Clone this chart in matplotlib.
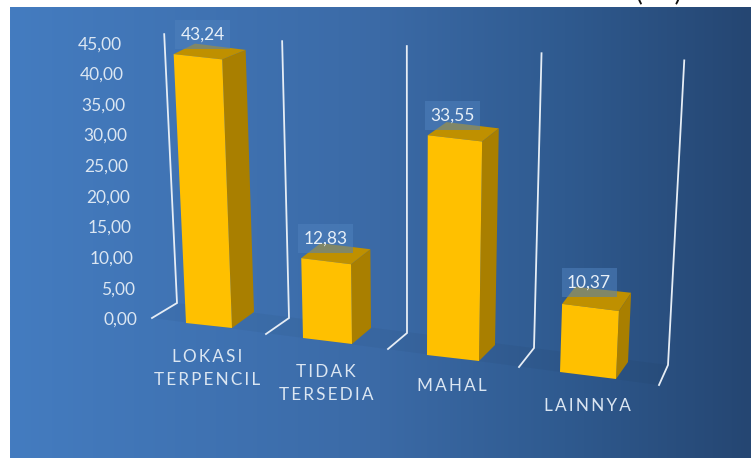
import numpy as np
import matplotlib
matplotlib.use("Agg")
import matplotlib.pyplot as plt
from matplotlib.patches import Polygon, Rectangle

# ---- data ----
categories = ["LOKASI\nTERPENCIL", "TIDAK\nTERSEDIA", "MAHAL", "LAINNYA"]
values = [43.24, 12.83, 33.55, 10.37]
tick_values = [0, 5, 10, 15, 20, 25, 30, 35, 40, 45]
value_labels = ["43,24", "12,83", "33,55", "10,37"]

# ---- 3D perspective layout (pixels) ----
W, H = 751, 458
VP = (410.0, 5200.0)                # vanishing point of the vertical edges
# bar footprints: front-left, front-right, back-right, back-left
bases = [[(186, 323), (232, 328), (254, 312), (206, 306)],
         [(303, 338), (352, 344), (371, 328), (322, 322)],
         [(427, 355), (479, 361), (495, 345), (445, 339)],
         [(560, 372), (616, 379), (628, 362), (573, 356)]]
front_k = [0.001275, 0.00128, 0.001352, 0.00136]
back_k = [0.001240, 0.00126, 0.001330, 0.00138]
label_off = [(29, -20), (24, -20), (25, -20), (27, -21)]
cat_xy = [(207, 368.5), (326, 383.5), (452, 386), (587, 406)]
# wall lines: bend point, foot point, perspective scale
walls = [((177, 303), (152, 318), 0.00122),
         ((289, 318), (266, 334), 0.00126),
         ((407, 333), (388, 349), 0.00131),
         ((534, 348), (519, 367), 0.00135),
         ((668, 365), (659, 385), 0.00140)]


def lift(pt, value, k):
    """Project a floor point up by `value` toward the vanishing direction."""
    t = value * k
    return (pt[0] + t * (pt[0] - VP[0]), pt[1] + t * (pt[1] - VP[1]))


plt.rcParams["font.family"] = ["Lato", "DejaVu Sans"]
fig = plt.figure(figsize=(W / 100, H / 100), dpi=100, facecolor="white")
ax = fig.add_axes([0, 0, 1, 1])
ax.set_xlim(0, W)
ax.set_ylim(H, 0)
ax.axis("off")

# brackets of a note above the panel, mostly cut off by the picture edge
ax.text(659, 1.5, "(     )", ha="center", va="baseline", fontsize=18,
        color="#111111", zorder=0)

# background gradient
stops = np.array([0, 0.5, 0.75, 1.0])
cols = np.array([[68, 124, 192], [59, 106, 166], [47, 90, 143], [37, 70, 114]]) / 255
g = np.linspace(0, 1, 400)
img = np.stack([np.interp(g, stops, cols[:, c]) for c in range(3)], axis=1)[None, :, :]
ax.imshow(img, extent=(10, W, H, 7), aspect="auto", zorder=1, interpolation="bilinear")
ax.set_xlim(0, W)
ax.set_ylim(H, 0)

# floor shading
ax.add_patch(Polygon([walls[0][1], walls[0][0], walls[-1][0], walls[-1][1]],
                     closed=True, fc="black", ec="none", alpha=0.035, zorder=2))

# wall lines
for bend, foot, k in walls:
    top = lift(bend, tick_values[-1], k)
    ax.plot([top[0], bend[0], foot[0]], [top[1], bend[1], foot[1]],
            color="#e6edf5", lw=1.3, solid_joinstyle="miter", zorder=3)

# y tick labels
for v in tick_values:
    ax.text(137 - v * 0.333, 320 - v * 6.13, f"{v:.2f}".replace(".", ","),
            ha="right", va="center", fontsize=12.5, color="#dbe6f2", zorder=5)

# bars
for val, base, kf, kb, off, lab in zip(values, bases, front_k, back_k, label_off, value_labels):
    fl, fr, br, bl = base
    tfl, tfr = lift(fl, val, kf), lift(fr, val, kf)
    tbr, tbl = lift(br, val, kb), lift(bl, val, kb)
    ax.add_patch(Polygon([fr, br, tbr, tfr], closed=True, fc="#A97F00", ec="none", zorder=4))
    ax.add_patch(Polygon([tfl, tfr, tbr, tbl], closed=True, fc="#BF9000", ec="none", zorder=4))
    ax.add_patch(Polygon([fl, fr, tfr, tfl], closed=True, fc="#FFC000", ec="none", zorder=4.1))
    cx, cy = tfl[0] + off[0], tfl[1] + off[1]
    ax.add_patch(Rectangle((cx - 27.5, cy - 14.5), 55, 29, fc="#4F81BD", ec="none",
                           alpha=0.55, zorder=5))
    ax.text(cx, cy, lab, ha="center", va="center", fontsize=12.5, color="#e8f0f8", zorder=6)

# category labels (letter-spaced with thin spaces)
for (x, y), cat in zip(cat_xy, categories):
    spaced = "\n".join("\u2009".join(line) for line in cat.split("\n"))
    ax.text(x, y, spaced, ha="center", va="center", fontsize=12.3, color="#dbe6f2",
            linespacing=1.55, zorder=5)

fig.savefig("out.png", dpi=100, facecolor="white")
